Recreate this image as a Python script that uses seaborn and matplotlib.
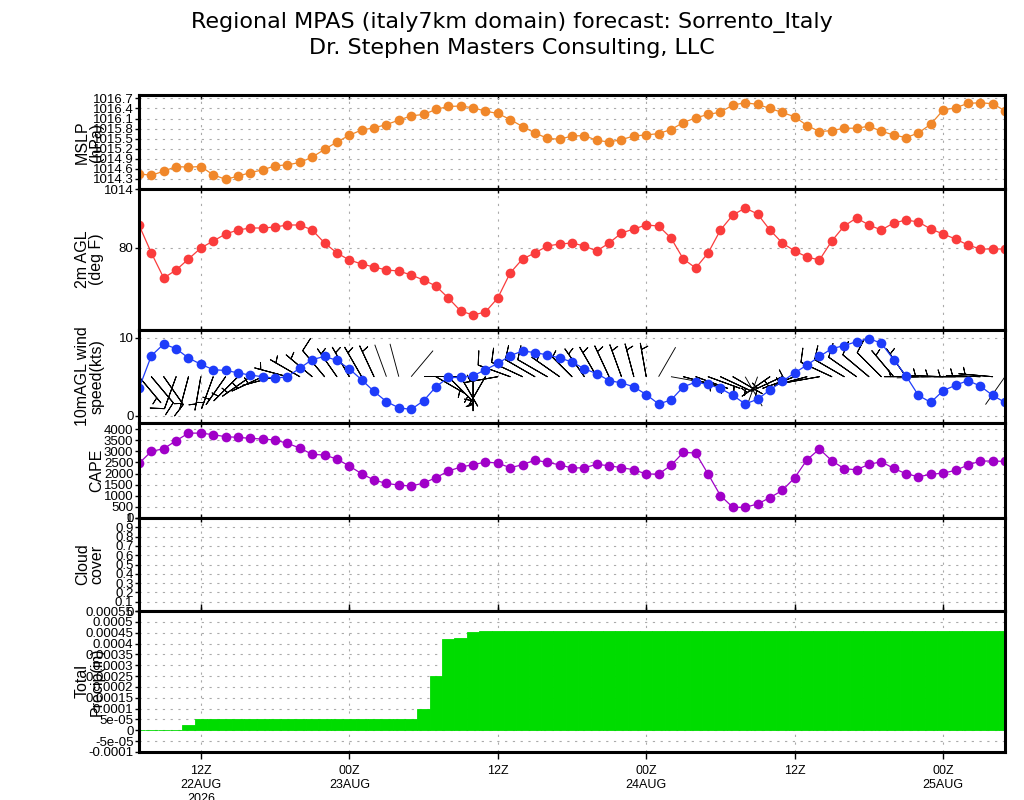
import numpy as np
import pandas as pd
import matplotlib
matplotlib.use('Agg')
import matplotlib.pyplot as plt
import seaborn as sns

# -------------------------------
# Meteogram: MPAS italy7km, Sorrento
# -------------------------------

# forecast valid hours, counted from 00Z 22AUG2026 (07Z 22AUG .. 05Z 25AUG)
hours = list(range(7, 78))

mslp = [1014.45, 1014.41, 1014.53, 1014.67, 1014.65, 1014.67, 1014.42, 1014.29, 1014.38, 1014.49,
        1014.57, 1014.69, 1014.72, 1014.79, 1014.95, 1015.18, 1015.40, 1015.60, 1015.76, 1015.82,
        1015.92, 1016.05, 1016.18, 1016.22, 1016.37, 1016.46, 1016.47, 1016.42, 1016.32, 1016.25,
        1016.07, 1015.86, 1015.67, 1015.51, 1015.48, 1015.58, 1015.59, 1015.45, 1015.40, 1015.47,
        1015.58, 1015.61, 1015.65, 1015.77, 1015.98, 1016.12, 1016.22, 1016.29, 1016.50, 1016.57,
        1016.52, 1016.40, 1016.28, 1016.15, 1015.89, 1015.71, 1015.74, 1015.81, 1015.81, 1015.87,
        1015.72, 1015.61, 1015.53, 1015.67, 1015.93, 1016.35, 1016.42, 1016.55, 1016.57, 1016.54,
        1016.33]

temp_f = [82.3, 79.5, 77.0, 77.8, 78.9, 80.0, 80.7, 81.4, 81.8, 82.0,
          82.0, 82.1, 82.3, 82.3, 81.8, 80.5, 79.5, 78.8, 78.4, 78.1,
          77.8, 77.7, 77.3, 76.8, 76.2, 75.0, 73.7, 73.3, 73.6, 75.0,
          77.5, 78.9, 79.5, 80.2, 80.4, 80.5, 80.2, 79.7, 80.5, 81.5,
          81.9, 82.3, 82.2, 81.0, 78.9, 78.0, 79.5, 81.8, 83.3, 84.0,
          83.4, 81.8, 80.5, 79.7, 79.1, 78.8, 80.7, 82.2, 83.0, 82.3,
          81.8, 82.5, 82.8, 82.6, 81.9, 81.4, 80.9, 80.3, 79.9, 79.9,
          79.9]

wind_kts = [3.5, 7.7, 9.2, 8.6, 7.4, 6.6, 5.9, 5.8, 5.5, 5.2,
            5.0, 4.8, 5.0, 6.1, 7.2, 7.6, 7.1, 6.0, 4.6, 3.1,
            1.8, 1.0, 0.8, 1.9, 3.7, 4.9, 4.9, 5.1, 5.9, 6.7,
            7.7, 8.3, 8.1, 7.8, 7.4, 6.9, 6.0, 5.4, 4.5, 4.2,
            3.7, 2.7, 1.5, 2.0, 3.7, 4.3, 4.0, 3.5, 2.6, 1.5,
            2.1, 3.3, 4.4, 5.5, 6.5, 7.6, 8.6, 9.0, 9.5, 9.9,
            9.3, 7.2, 5.1, 2.6, 1.7, 3.2, 3.9, 4.5, 3.8, 2.6,
            1.7]

# direction the wind blows from (deg)
wind_dir = [140, 140, 145, 200, 195, 190, 200, 215, 225, 235,
            245, 255, 285, 300, 310, 320, 325, 330, 330, 335,
            340, 345, 40, 90, 120, 135, 150, 180, 210, 260,
            290, 295, 300, 300, 305, 315, 325, 330, 335, 340,
            345, 350, 30, 100, 105, 110, 110, 115, 120, 150,
            200, 235, 245, 250, 255, 260, 295, 300, 305, 310,
            315, 320, 325, 270, 268, 272, 270, 270, 272, 275,
            215]

cape = [2455, 2995, 3115, 3475, 3815, 3815, 3745, 3655, 3625, 3580,
        3550, 3505, 3355, 3145, 2860, 2830, 2650, 2335, 1990, 1705,
        1555, 1480, 1435, 1570, 1810, 2110, 2290, 2395, 2515, 2470,
        2260, 2395, 2605, 2500, 2390, 2245, 2260, 2410, 2350, 2260,
        2170, 1975, 1975, 2365, 2950, 2920, 1975, 1005, 480, 480,
        630, 915, 1240, 1810, 2620, 3100, 2575, 2215, 2170, 2410,
        2530, 2230, 1990, 1855, 1960, 2020, 2140, 2380, 2560, 2560,
        2545]

precip_in = [0.000003, 0.000003, 0.000003, 0.000003, 0.000023, 0.0000537, 0.0000537, 0.0000537, 0.0000537, 0.0000537,
             0.0000537, 0.0000537, 0.0000537, 0.0000537, 0.0000537, 0.0000537, 0.0000537, 0.0000537, 0.0000537, 0.0000537,
             0.0000537, 0.0000537, 0.0000537, 0.0000966, 0.00025, 0.000419, 0.000425, 0.000452, 0.000458, 0.000458,
             0.000458, 0.000458, 0.000458, 0.000458, 0.000458, 0.000458, 0.000458, 0.000458, 0.000458, 0.000458,
             0.000458, 0.000458, 0.000458, 0.000458, 0.000458, 0.000458, 0.000458, 0.000458, 0.000458, 0.000458,
             0.000458, 0.000458, 0.000458, 0.000458, 0.000458, 0.000458, 0.000458, 0.000458, 0.000458, 0.000458,
             0.000458, 0.000458, 0.000458, 0.000458, 0.000458, 0.000458, 0.000458, 0.000458, 0.000458, 0.000458,
             0.000458]

tick_hours = [12, 24, 36, 48, 60, 72]
tick_labels = ['12Z\n22AUG\n2026', '00Z\n23AUG', '12Z', '00Z\n24AUG', '12Z', '00Z\n25AUG']

df = pd.DataFrame({'hour': hours, 'mslp': mslp, 'temp': temp_f, 'wspd': wind_kts,
                   'wdir': wind_dir, 'cape': cape, 'precip': precip_in})

sns.set_style('white')
plt.rcParams['font.family'] = ['Liberation Sans', 'DejaVu Sans']
plt.rcParams.update({'text.color': 'black', 'axes.labelcolor': 'black',
                     'xtick.color': 'black', 'ytick.color': 'black'})

fig = plt.figure(figsize=(10.24, 8.0), dpi=100)

# panel frames in pixels (top, bottom)
panel_px = [(95, 189), (189, 330), (330, 423), (423, 518), (518, 611), (611, 752)]
axes = []
for top, bot in panel_px:
    axes.append(fig.add_axes([139 / 1024, 1 - bot / 800, 866 / 1024, (bot - top) / 800]))
ax_p, ax_t, ax_w, ax_c, ax_cl, ax_pr = axes

line_kw = dict(marker='o', markersize=7, markeredgewidth=0, linewidth=0.9)

# MSLP
sns.lineplot(data=df, x='hour', y='mslp', ax=ax_p, color='#f0872a', **line_kw)
ax_p.set_ylim(1014, 1016.8)
mticks = np.round(np.arange(1014, 1016.75, 0.3), 1)
ax_p.set_yticks(mticks)
ax_p.set_yticklabels([f'{t:g}' for t in mticks])
ax_p.set_ylabel('MSLP\n(hPa)')

# 2m temperature
sns.lineplot(data=df, x='hour', y='temp', ax=ax_t, color='#fa3c3c', **line_kw)
ax_t.set_ylim(71.8, 85.9)
ax_t.set_yticks([80])
ax_t.set_ylabel('2m AGL\n(deg F)')

# 10 m wind: barbs + speed
rad = np.deg2rad(df['wdir'].to_numpy())
spd = df['wspd'].to_numpy()
barb_y = np.full(len(df), 5.0)
staff_px = 7 ** 2 / 2 * fig.dpi / 72
ax_w.quiver(df['hour'], barb_y, np.sin(rad) * staff_px, np.cos(rad) * staff_px,
            units='dots', scale_units='dots', scale=1, angles='uv', width=0.9,
            headwidth=0, headlength=0, headaxislength=0, pivot='tail', color='black')
ax_w.barbs(df['hour'], barb_y, -spd * np.sin(rad), -spd * np.cos(rad), length=7,
           linewidth=0.7, color='black', sizes=dict(emptybarb=0.0))
sns.lineplot(data=df, x='hour', y='wspd', ax=ax_w, color='#1e3cfa', **line_kw)
ax_w.set_ylim(-0.95, 11)
ax_w.set_yticks([0, 10])
ax_w.set_ylabel('10mAGL wind\nspeed(kts)')

# CAPE
sns.lineplot(data=df, x='hour', y='cape', ax=ax_c, color='#a000c8', **line_kw)
ax_c.set_ylim(0, 4270)
ax_c.set_yticks(np.arange(0, 4001, 500))
ax_c.set_ylabel('CAPE')

# cloud cover (nothing to draw)
ax_cl.set_ylim(0, 1.0)
cticks = np.round(np.arange(0, 1.01, 0.1), 1)
ax_cl.set_yticks(cticks)
ax_cl.set_yticklabels([f'{t:g}' for t in cticks])
ax_cl.set_ylabel('Cloud\ncover')

# total precip
sns.barplot(data=df, x='hour', y='precip', ax=ax_pr, native_scale=True, width=1,
            color='#00dc00', saturation=1, errorbar=None, linewidth=0.6, edgecolor='#00dc00')
ax_pr.set_ylim(-0.0001, 0.00055)
pticks = np.arange(-0.0001, 0.000551, 0.00005)
ax_pr.set_yticks(pticks)
ax_pr.set_yticklabels(['0' if abs(t) < 1e-12 else f'{round(t, 6):g}' for t in pticks])
ax_pr.set_ylabel('Total\nPrecip(in)')

grid_kw = dict(color='#aaaaaa', linestyle=(0, (2, 5)), linewidth=0.8)
for ax in axes:
    ax.set_xlim(hours[0], hours[-1])
    ax.set_xticks(tick_hours)
    ax.set_xlabel('')
    ax.grid(True, axis='both', **grid_kw)
    ax.set_axisbelow(True)
    for sp in ax.spines.values():
        sp.set_linewidth(2.2)
        sp.set_color('black')
        sp.set_visible(True)
    ax.tick_params(axis='y', direction='out', length=3, width=1, labelsize=9.5, pad=1, left=True)
    ax.tick_params(axis='x', direction='in', length=3, width=1, top=True, bottom=True)
    ax.yaxis.label.set_fontsize(11.5)
    ax.yaxis.label.set_linespacing(0.95)
    ax.yaxis.set_label_coords(-0.04, 0.5)
    if ax is not ax_pr:
        ax.set_xticklabels([])

ax_pr.tick_params(axis='x', direction='out', length=5, labelsize=9, pad=4)
ax_pr.set_xticklabels(tick_labels, linespacing=1.25)

title_kw = dict(ha='center', va='center', fontsize=16, family='DejaVu Sans', color='black')
fig.text(0.5, 0.972, 'Regional MPAS (italy7km domain) forecast: Sorrento_Italy', **title_kw)
fig.text(0.5, 0.94, 'Dr. Stephen Masters Consulting, LLC', **title_kw)

fig.savefig('out.png', dpi=100)
